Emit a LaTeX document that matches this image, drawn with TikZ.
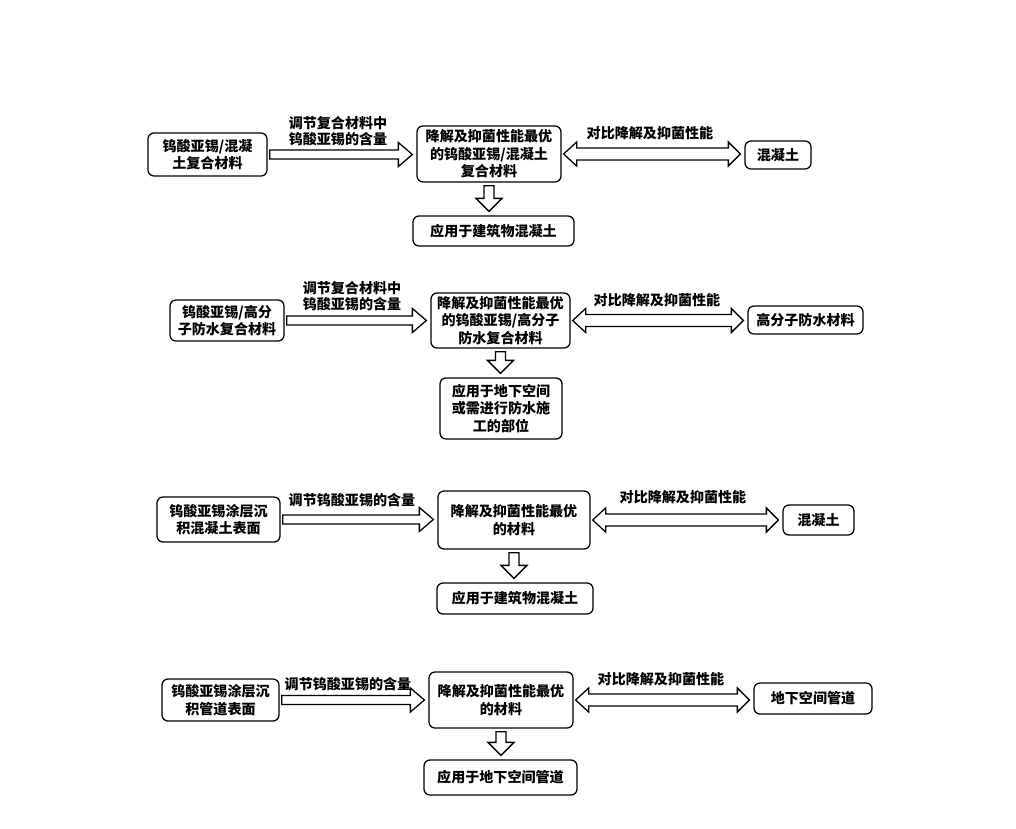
\documentclass[tikz,border=0pt]{standalone}
\usepackage{fontspec}
\setmainfont{Noto Sans CJK SC}
\usepackage{tikz}
\usetikzlibrary{calc}

\newdimen\px \px=0.025cm

% hollow arrow, left to right
\newcommand{\harrow}[2]{%
\draw[hollow] let \p1=(#1), \p2=(#2) in
 (\x1+2*\px,\y1+4.5*\px) -- (\x2-18*\px,\y1+4.5*\px) -- (\x2-18*\px,\y1+12*\px) -- (\x2-4*\px,\y1)
 -- (\x2-18*\px,\y1-12*\px) -- (\x2-18*\px,\y1-4.5*\px) -- (\x1+2*\px,\y1-4.5*\px) -- cycle;}
% hollow arrow, both ends
\newcommand{\darrow}[2]{%
\draw[hollow] let \p1=(#1), \p2=(#2) in
 (\x1+2*\px,\y1) -- (\x1+15*\px,\y1+12*\px) -- (\x1+15*\px,\y1+6*\px) -- (\x2-16*\px,\y1+6*\px)
 -- (\x2-16*\px,\y1+12*\px) -- (\x2-4*\px,\y1) -- (\x2-16*\px,\y1-12*\px) -- (\x2-16*\px,\y1-6*\px)
 -- (\x1+15*\px,\y1-6*\px) -- (\x1+15*\px,\y1-12*\px) -- cycle;}
% hollow arrow, downwards
\newcommand{\varrow}[2]{%
\draw[hollow] let \p1=(#1), \p2=(#2) in
 (\x1-5*\px,\y1-3*\px) -- (\x1-5*\px,\y2+17*\px) -- (\x1-13*\px,\y2+17*\px) -- (\x1,\y2+4*\px)
 -- (\x1+13*\px,\y2+17*\px) -- (\x1+5*\px,\y2+17*\px) -- (\x1+5*\px,\y1-3*\px) -- cycle;}

\begin{document}
\begin{tikzpicture}[x=0.025cm, y=-0.025cm,
  every node/.style={font=\fontsize{10}{12.5}\selectfont\bfseries, align=center, inner sep=0pt},
  box/.style={draw, rounded corners=6\px, line width=0.9pt},
  hollow/.style={draw, fill=white, line width=0.9pt, line join=miter}]
\useasboundingbox (0,0) rectangle (1016,828);

% row 1
\node[box, minimum width=119\px, minimum height=43\px] (a1) at (207.5,154.5) {钨酸亚锡/混凝\\土复合材料};
\node[box, minimum width=144\px, minimum height=56\px] (b1) at (489,154) {降解及抑菌性能最优\\的钨酸亚锡/混凝土\\复合材料};
\node[box, minimum width=66\px, minimum height=28\px] (c1) at (778,155) {混凝土};
\node[box, minimum width=161\px, minimum height=30\px] (d1) at (493.5,231) {应用于建筑物混凝土};
\node[font=\fontsize{10}{11}\selectfont\bfseries] (s1) at (338,131) {调节复合材料中\\钨酸亚锡的含量};
\node (t1) at (650,133) {对比降解及抑菌性能};
\harrow{a1.east}{b1.west}
\darrow{b1.east}{c1.west}
\varrow{b1.south}{d1.north}

% row 2
\node[box, minimum width=114\px, minimum height=41\px] (a2) at (227,320.5) {钨酸亚锡/高分\\子防水复合材料};
\node[box, minimum width=139\px, minimum height=55\px] (b2) at (500.5,320.5) {降解及抑菌性能最优\\的钨酸亚锡/高分子\\防水复合材料};
\node[box, minimum width=115\px, minimum height=28\px] (c2) at (805.5,320) {高分子防水材料};
\node[box, minimum width=122\px, minimum height=61\px] (d2) at (501,408.5) {应用于地下空间\\或需进行防水施\\工的部位};
\node[font=\fontsize{10}{11}\selectfont\bfseries] (s2) at (352,296) {调节复合材料中\\钨酸亚锡的含量};
\node (t2) at (657,300) {对比降解及抑菌性能};
\harrow{a2.east}{b2.west}
\darrow{b2.east}{c2.west}
\varrow{b2.south}{d2.north}

% row 3
\node[box, minimum width=123\px, minimum height=45\px] (a3) at (218.5,519.5) {钨酸亚锡涂层沉\\积混凝土表面};
\node[box, minimum width=152\px, minimum height=58\px] (b3) at (514,520) {降解及抑菌性能最优\\的材料};
\node[box, minimum width=71\px, minimum height=30\px] (c3) at (818.5,520) {混凝土};
\node[box, minimum width=156\px, minimum height=31\px] (d3) at (515,598.5) {应用于建筑物混凝土};
\node (s3) at (352,500) {调节钨酸亚锡的含量};
\node (t3) at (683,497) {对比降解及抑菌性能};
\harrow{a3.east}{b3.west}
\darrow{b3.east}{c3.west}
\varrow{b3.south}{d3.north}

% row 4
\node[box, minimum width=117\px, minimum height=42\px] (a4) at (220.5,700) {钨酸亚锡涂层沉\\积管道表面};
\node[box, minimum width=144\px, minimum height=56\px] (b4) at (501,700) {降解及抑菌性能最优\\的材料};
\node[box, minimum width=118\px, minimum height=31\px] (c4) at (813,698.5) {地下空间管道};
\node[box, minimum width=153\px, minimum height=35\px] (d4) at (500.5,777.5) {应用于地下空间管道};
\node (s4) at (348,684) {调节钨酸亚锡的含量};
\node (t4) at (661,679) {对比降解及抑菌性能};
\harrow{a4.east}{b4.west}
\darrow{b4.east}{c4.west}
\varrow{b4.south}{d4.north}
\end{tikzpicture}
\end{document}
